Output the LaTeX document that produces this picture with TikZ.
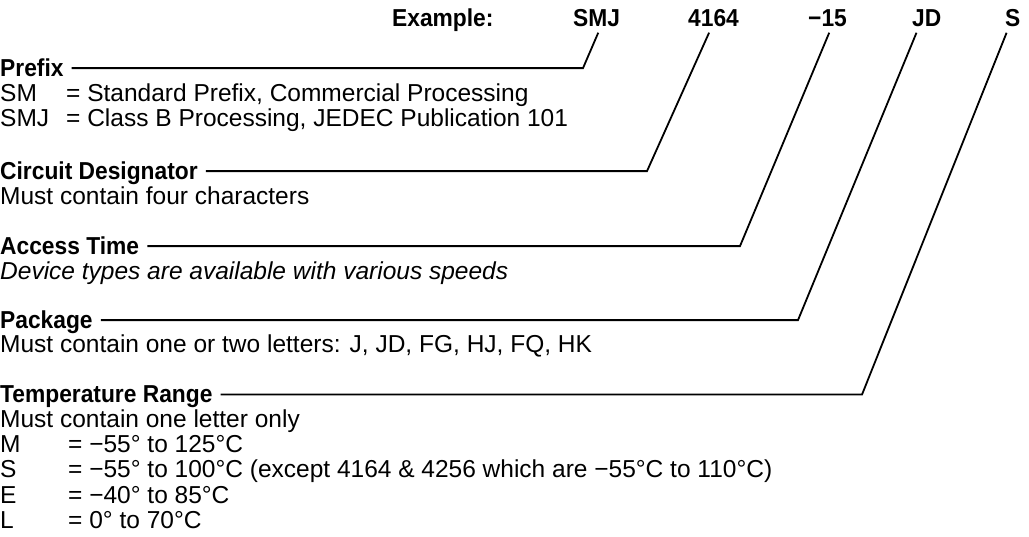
\documentclass[tikz,border=0pt]{standalone}
\usepackage{fontspec}
\setmainfont[BoldFeatures={FakeStretch=0.93}]{Liberation Sans}
\usepackage{tikz}

\begin{document}
\begin{tikzpicture}[x=1pt,y=1pt,yscale=-1,xscale=1,
  txt/.style={anchor=base west,inner sep=0pt,font=\fontsize{24.5}{25}\selectfont},
  head/.style={txt,font=\fontsize{24.5}{25}\selectfont\bfseries,text depth=0pt},
  link/.style={line width=1.8pt,shorten <=8pt,shorten >=6pt}]
\useasboundingbox (0,0) rectangle (1029,537);

% Example part number
\node[head] (ex) at (392,27) {Example:};
\node[head] (hSMJ) at (573,27) {SMJ};
\node[head] (h4164) at (688,27) {4164};
\node[head] (h15) at (808,27) {−15};
\node[head] (hJD) at (912,27) {JD};
\node[head] (hS) at (1005,27) {S};

% Prefix
\node[head] (prefix) at (0,77) {Prefix};
\node[txt] (pSM) at (0,102) {SM};
\node[txt] (pSMtxt) at (66,102) {= Standard Prefix, Commercial Processing};
\node[txt] (pSMJ) at (0,127) {SMJ};
\node[txt] (pSMJtxt) at (66,127) {= Class B Processing, JEDEC Publication 101};

% Circuit Designator
\node[head] (circuit) at (0,180) {Circuit Designator};
\node[txt] (circuittxt) at (0,205) {Must contain four characters};

% Access Time
\node[head] (access) at (0,255) {Access Time};
\node[txt,font=\fontsize{24.5}{25}\selectfont\itshape] (accesstxt) at (0,280) {Device types are available with various speeds};

% Package
\node[head] (package) at (0,329) {Package};
\node[txt] (packagetxt) at (0,353) {Must contain one or two letters: J, JD, FG, HJ, FQ, HK};

% Temperature Range
\node[head] (temp) at (0,403) {Temperature Range};
\node[txt] (temptxt) at (0,428) {Must contain one letter only};
\node[txt] (tM) at (0,453) {M};
\node[txt] (tMtxt) at (68,453) {= −55° to 125°C};
\node[txt] (tS) at (0,478) {S};
\node[txt] (tStxt) at (68,478) {= −55° to 100°C (except 4164 \& 4256 which are −55°C to 110°C)};
\node[txt] (tE) at (0,503) {E};
\node[txt] (tEtxt) at (68,503) {= −40° to 85°C};
\node[txt] (tL) at (0,528) {L};
\node[txt] (tLtxt) at (68,528) {= 0° to 70°C};

% Bends of the leader lines
\coordinate (bPrefix) at (583,0);
\coordinate (bCircuit) at (647,0);
\coordinate (bAccess) at (740,0);
\coordinate (bPackage) at (798,0);
\coordinate (bTemp) at (862,0);

% Leader lines
\draw[link] (prefix.east) -- (prefix.east -| bPrefix) -- ([xshift=4pt]hSMJ.south);
\draw[link] (circuit.east) -- (circuit.east -| bCircuit) -- ([xshift=-2pt]h4164.south);
\draw[link] (access.east) -- (access.east -| bAccess) -- ([xshift=4pt]h15.south);
\draw[link] (package.east) -- (package.east -| bPackage) -- ([xshift=-8pt]hJD.south);
\draw[link] (temp.east) -- (temp.east -| bTemp) -- ([xshift=-4pt]hS.south);

\end{tikzpicture}
\end{document}
